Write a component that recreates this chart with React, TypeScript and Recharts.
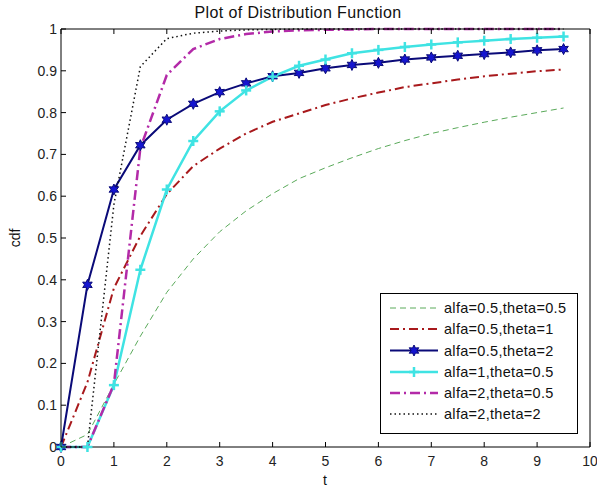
import { LineChart, Line, XAxis, YAxis, Legend } from 'recharts'

const tValues = [0, 0.5, 1, 1.5, 2, 2.5, 3, 3.5, 4, 4.5, 5, 5.5, 6, 6.5, 7, 7.5, 8, 8.5, 9, 9.5]

const alfa05Theta05 = [0, 0.03, 0.15, 0.265, 0.37, 0.45, 0.515, 0.565, 0.606, 0.642, 0.668, 0.692, 0.714, 0.733, 0.75, 0.764, 0.777, 0.789, 0.8, 0.811]
const alfa05Theta1 = [0, 0.155, 0.38, 0.505, 0.605, 0.672, 0.714, 0.75, 0.778, 0.798, 0.818, 0.834, 0.848, 0.861, 0.87, 0.879, 0.887, 0.893, 0.899, 0.903]
const alfa05Theta2 = [0, 0.388, 0.616, 0.722, 0.783, 0.821, 0.849, 0.87, 0.887, 0.895, 0.906, 0.914, 0.919, 0.927, 0.932, 0.936, 0.94, 0.944, 0.949, 0.952]
const alfa1Theta05 = [0, 0, 0.148, 0.424, 0.616, 0.732, 0.803, 0.853, 0.886, 0.912, 0.927, 0.942, 0.95, 0.957, 0.963, 0.968, 0.972, 0.976, 0.979, 0.982]
const alfa2Theta05 = [0, 0, 0.15, 0.715, 0.89, 0.952, 0.976, 0.988, 0.994, 0.997, 0.998, 0.999, 1, 1, 1, 1, 1, 1, 1, 1]
const alfa2Theta2 = [0, 0, 0.58, 0.91, 0.977, 0.99, 0.995, 0.998, 0.999, 1, 1, 1, 1, 1, 1, 1, 1, 1, 1, 1]

const xTicks = [0, 1, 2, 3, 4, 5, 6, 7, 8, 9, 10]
const yTicks = [0, 0.1, 0.2, 0.3, 0.4, 0.5, 0.6, 0.7, 0.8, 0.9, 1]

const series = [
  { key: 'a', name: 'alfa=0.5,theta=0.5', values: alfa05Theta05, color: '#5aaa5a', width: 1, dash: '6 4', marker: '' },
  { key: 'b', name: 'alfa=0.5,theta=1', values: alfa05Theta1, color: '#a8191c', width: 2, dash: '9 4 2 4', marker: '' },
  { key: 'c', name: 'alfa=0.5,theta=2', values: alfa05Theta2, color: '#0a0a78', width: 2, dash: '', marker: 'star' },
  { key: 'd', name: 'alfa=1,theta=0.5', values: alfa1Theta05, color: '#3fe3e3', width: 2.5, dash: '', marker: 'plus' },
  { key: 'e', name: 'alfa=2,theta=0.5', values: alfa2Theta05, color: '#b32aa8', width: 2.5, dash: '10 4 2 4', marker: '' },
  { key: 'f', name: 'alfa=2,theta=2', values: alfa2Theta2, color: '#111111', width: 1.5, dash: '1.5 3', marker: '' },
]

const chartData = tValues.map((t, i) => {
  const row: Record<string, number> = { t }
  series.forEach((s) => {
    row[s.key] = s.values[i]
  })
  return row
})

const font = '"Liberation Sans", Arial, sans-serif'

function starPoints(cx: number, cy: number, ro: number, ri: number) {
  const pts: string[] = []
  for (let k = 0; k < 12; k++) {
    const r = k % 2 === 0 ? ro : ri
    const a = (Math.PI / 6) * k - Math.PI / 2
    pts.push(`${cx + r * Math.cos(a)},${cy + r * Math.sin(a)}`)
  }
  return pts.join(' ')
}

function Star({ cx, cy }: { cx: number; cy: number }) {
  return <polygon points={starPoints(cx, cy, 5.5, 2.9)} fill="#1515d0" stroke="#0a0a78" strokeWidth={1} />
}

function Plus({ cx, cy, color }: { cx: number; cy: number; color: string }) {
  return (
    <g stroke={color} strokeWidth={2.5}>
      <line x1={cx - 5} y1={cy} x2={cx + 5} y2={cy} />
      <line x1={cx} y1={cy - 5} x2={cx} y2={cy + 5} />
    </g>
  )
}

const BottomTick = (props: any) => {
  const { x, y, payload } = props
  return (
    <g>
      <line x1={x} y1={y} x2={x} y2={y - 5} stroke="#000" />
      <text x={x} y={y + 19} textAnchor="middle" fontSize={14} fontFamily={font} fill="#222">
        {payload.value}
      </text>
    </g>
  )
}

const TopTick = (props: any) => {
  const { x, y } = props
  return <line x1={x} y1={y} x2={x} y2={y + 5} stroke="#000" />
}

const LeftTick = (props: any) => {
  const { x, y, payload } = props
  return (
    <g>
      <line x1={x} y1={y} x2={x + 5} y2={y} stroke="#000" />
      <text x={x - 4} y={y + 5} textAnchor="end" fontSize={14} fontFamily={font} fill="#222">
        {String(Math.round(payload.value * 10) / 10)}
      </text>
    </g>
  )
}

const RightTick = (props: any) => {
  const { x, y } = props
  return <line x1={x} y1={y} x2={x - 5} y2={y} stroke="#000" />
}

function LegendBox() {
  const rowY = [15, 36, 57.5, 79, 100, 121]
  return (
    <svg width={199} height={142} style={{ display: 'block' }}>
      <rect x={0.5} y={0.5} width={197} height={140} fill="#fff" stroke="#000" />
      {series.map((s, i) => (
        <g key={s.key}>
          <line x1={10} y1={rowY[i]} x2={58} y2={rowY[i]} stroke={s.color} strokeWidth={s.width} strokeDasharray={s.dash || undefined} />
          {s.marker === 'star' && <Star cx={34} cy={rowY[i]} />}
          {s.marker === 'plus' && <Plus cx={34} cy={rowY[i]} color={s.color} />}
          <text x={64} y={rowY[i] + 5} fontSize={14.5} letterSpacing={0.3} fontFamily={font} fill="#111">
            {s.name}
          </text>
        </g>
      ))}
    </svg>
  )
}

export default function App() {
  return (
    <div style={{ position: 'absolute', left: 0, top: 0, background: '#fff' }}>
      <LineChart width={597} height={490} data={chartData} margin={{ top: 28, right: 6, bottom: 0, left: 0 }}>
        <XAxis
          dataKey="t"
          type="number"
          domain={[0, 10]}
          ticks={xTicks}
          height={43}
          tickSize={0}
          tickMargin={0}
          tickLine={false}
          axisLine={{ stroke: '#000' }}
          tick={BottomTick}
          interval={0}
        />
        <XAxis
          xAxisId="top"
          orientation="top"
          dataKey="t"
          type="number"
          domain={[0, 10]}
          ticks={xTicks}
          height={1}
          tickSize={0}
          tickMargin={0}
          tickLine={false}
          axisLine={{ stroke: '#000' }}
          tick={TopTick}
          interval={0}
        />
        <YAxis
          type="number"
          domain={[0, 1]}
          ticks={yTicks}
          width={61}
          tickSize={0}
          tickMargin={0}
          tickLine={false}
          axisLine={{ stroke: '#000' }}
          tick={LeftTick}
          interval={0}
        />
        <YAxis
          yAxisId="right"
          orientation="right"
          type="number"
          domain={[0, 1]}
          ticks={yTicks}
          width={1}
          tickSize={0}
          tickMargin={0}
          tickLine={false}
          axisLine={{ stroke: '#000' }}
          tick={RightTick}
          interval={0}
        />
        {series.map((s) => (
          <Line
            key={s.key}
            type="linear"
            dataKey={s.key}
            name={s.name}
            stroke={s.color}
            strokeWidth={s.width}
            strokeDasharray={s.dash || undefined}
            isAnimationActive={false}
            activeDot={false}
            dot={
              s.marker === 'star'
                ? (p: any) => <Star key={`st${p.index}`} cx={p.cx} cy={p.cy} />
                : s.marker === 'plus'
                ? (p: any) => <Plus key={`pl${p.index}`} cx={p.cx} cy={p.cy} color={s.color} />
                : false
            }
          />
        ))}
        <Legend
          layout="vertical"
          align="center"
          verticalAlign="middle"
          content={() => <LegendBox />}
          wrapperStyle={{ left: 380, top: 293, width: 199, height: 142 }}
        />
        <text x={298} y={18} textAnchor="middle" fontSize={16} letterSpacing={0.4} fontFamily={font} fill="#111">
          Plot of Distribution Function
        </text>
        <text x={20} y={238} textAnchor="middle" fontSize={14} fontFamily={font} fill="#111" transform="rotate(-90 20 238)">
          cdf
        </text>
        <text x={325} y={485} textAnchor="middle" fontSize={14} fontFamily={font} fill="#111">
          t
        </text>
      </LineChart>
    </div>
  )
}
